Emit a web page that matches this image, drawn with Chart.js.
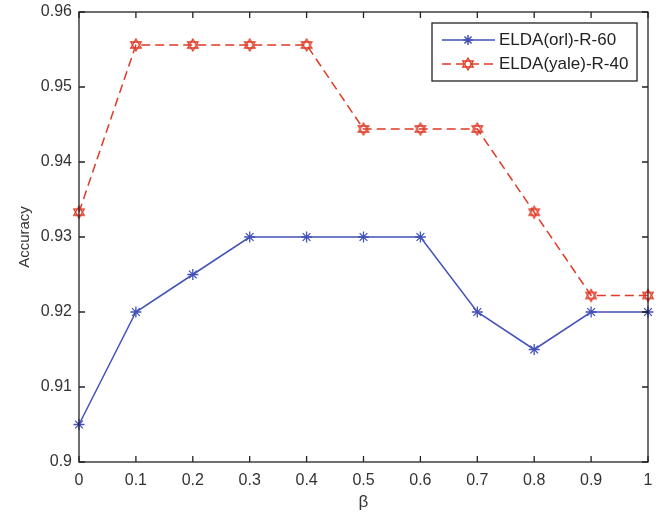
<!DOCTYPE html>
<html>
<head>
<meta charset="utf-8">
<script src="https://cdn.jsdelivr.net/npm/chart.js@4"></script>
<style>
  html, body { margin: 0; padding: 0; background: #fff; }
  #wrap { width: 659px; height: 513px; }
</style>
</head>
<body>
<div id="wrap"><canvas id="chart" width="659" height="513"></canvas></div>
<script>
const betaVals = [0, 0.1, 0.2, 0.3, 0.4, 0.5, 0.6, 0.7, 0.8, 0.9, 1];
const orlAcc = [0.905, 0.92, 0.925, 0.93, 0.93, 0.93, 0.93, 0.92, 0.915, 0.92, 0.92];
const yaleAcc = [0.9333, 0.9556, 0.9556, 0.9556, 0.9556, 0.9444, 0.9444, 0.9444, 0.9333, 0.9222, 0.9222];
const xTicks = [0, 0.1, 0.2, 0.3, 0.4, 0.5, 0.6, 0.7, 0.8, 0.9, 1];
const yTicks = [0.9, 0.91, 0.92, 0.93, 0.94, 0.95, 0.96];

const BLUE = "#4352b8";
const RED = "#de3a26";
const FONT = "'Liberation Sans', Arial, sans-serif";

// hexagram marker for the red line
function hexagram(size, color) {
  const c = document.createElement("canvas");
  c.width = size * 2 + 4;
  c.height = size * 2 + 4;
  const g = c.getContext("2d");
  const cx = c.width / 2, cy = c.height / 2;
  g.strokeStyle = color;
  g.lineWidth = 1.3;
  for (let t = 0; t < 2; t++) {
    g.beginPath();
    for (let k = 0; k < 3; k++) {
      const a = -Math.PI / 2 + t * Math.PI + (k * 2 * Math.PI) / 3;
      const px = cx + size * Math.cos(a), py = cy + size * Math.sin(a);
      if (k === 0) g.moveTo(px, py); else g.lineTo(px, py);
    }
    g.closePath();
    g.stroke();
  }
  return c;
}
const hexMark = hexagram(6, RED);

function xy(xs, ys) {
  return xs.map((x, i) => ({ x: x, y: ys[i] }));
}

const frame = {
  id: "frame",
  afterDraw(chart) {
    const ctx = chart.ctx;
    const a = chart.chartArea;
    const xs = chart.scales.x, ys = chart.scales.y;
    ctx.save();
    ctx.strokeStyle = "#222";
    ctx.lineWidth = 1.3;
    ctx.strokeRect(a.left, a.top, a.right - a.left, a.bottom - a.top);
    ctx.beginPath();
    xTicks.forEach((v) => {
      const px = xs.getPixelForValue(v);
      ctx.moveTo(px, a.bottom); ctx.lineTo(px, a.bottom - 6);
      ctx.moveTo(px, a.top); ctx.lineTo(px, a.top + 6);
    });
    yTicks.forEach((v) => {
      const py = ys.getPixelForValue(v);
      ctx.moveTo(a.left, py); ctx.lineTo(a.left + 6, py);
      ctx.moveTo(a.right, py); ctx.lineTo(a.right - 6, py);
    });
    ctx.stroke();

    // legend box
    const lx = 432, ly = 23, lw = 205, lh = 58;
    ctx.fillStyle = "#fff";
    ctx.fillRect(lx, ly, lw, lh);
    ctx.strokeStyle = "#222";
    ctx.lineWidth = 1.3;
    ctx.strokeRect(lx, ly, lw, lh);
    ctx.font = "17px " + FONT;
    ctx.textBaseline = "middle";
    chart.data.datasets.forEach((ds, i) => {
      const yy = ly + 17 + i * 24;
      ctx.strokeStyle = ds.borderColor;
      ctx.lineWidth = 1.5;
      ctx.setLineDash(ds.borderDash || []);
      ctx.beginPath();
      ctx.moveTo(lx + 10, yy); ctx.lineTo(lx + 63, yy);
      ctx.stroke();
      ctx.setLineDash([]);
      if (i === 0) {
        ctx.beginPath();
        for (let k = 0; k < 4; k++) {
          const ang = (k * Math.PI) / 4;
          ctx.moveTo(lx + 36 - 5 * Math.cos(ang), yy - 5 * Math.sin(ang));
          ctx.lineTo(lx + 36 + 5 * Math.cos(ang), yy + 5 * Math.sin(ang));
        }
        ctx.stroke();
      } else {
        ctx.drawImage(hexMark, lx + 36 - hexMark.width / 2, yy - hexMark.height / 2);
      }
      ctx.fillStyle = "#222";
      ctx.fillText(ds.label, lx + 67, yy);
    });
    ctx.restore();
  }
};

new Chart(document.getElementById("chart"), {
  type: "line",
  data: {
    datasets: [
      {
        label: "ELDA(orl)-R-60",
        data: xy(betaVals, orlAcc),
        borderColor: BLUE,
        backgroundColor: BLUE,
        borderWidth: 1.5,
        pointStyle: "star",
        pointRadius: 5.5,
        pointBorderWidth: 1.3,
        tension: 0
      },
      {
        label: "ELDA(yale)-R-40",
        data: xy(betaVals, yaleAcc),
        borderColor: RED,
        backgroundColor: RED,
        borderWidth: 1.5,
        borderDash: [9, 5],
        pointStyle: hexMark,
        tension: 0
      }
    ]
  },
  options: {
    responsive: false,
    animation: false,
    clip: false,
    layout: { padding: { top: 12, right: 11, left: 0, bottom: 0 } },
    plugins: { legend: { display: false }, tooltip: { enabled: false } },
    scales: {
      x: {
        type: "linear",
        min: 0,
        max: 1,
        afterBuildTicks: (s) => { s.ticks = xTicks.map((v) => ({ value: v })); },
        afterFit: (s) => { s.height = 51; s.paddingLeft = 0; s.paddingRight = 0; },
        grid: { display: false, drawTicks: false },
        border: { display: false },
        ticks: {
          color: "#333",
          padding: 9,
          maxRotation: 0,
          font: { family: FONT, size: 16 },
          callback: (v) => String(Math.round(v * 10) / 10)
        },
        title: {
          display: true,
          text: "β",
          color: "#333",
          padding: { top: 1, bottom: 0 },
          font: { family: FONT, size: 17 }
        }
      },
      y: {
        type: "linear",
        min: 0.9,
        max: 0.96,
        afterBuildTicks: (s) => { s.ticks = yTicks.map((v) => ({ value: v })); },
        afterFit: (s) => { s.width = 79; s.paddingTop = 0; s.paddingBottom = 0; },
        grid: { display: false, drawTicks: false },
        border: { display: false },
        ticks: {
          color: "#333",
          padding: 7,
          font: { family: FONT, size: 16 },
          callback: (v) => String(Math.round(v * 100) / 100)
        },
        title: {
          display: true,
          text: "Accuracy",
          color: "#333",
          padding: { top: 16, bottom: 0 },
          font: { family: FONT, size: 15 }
        }
      }
    }
  },
  plugins: [frame]
});
</script>
</body>
</html>
